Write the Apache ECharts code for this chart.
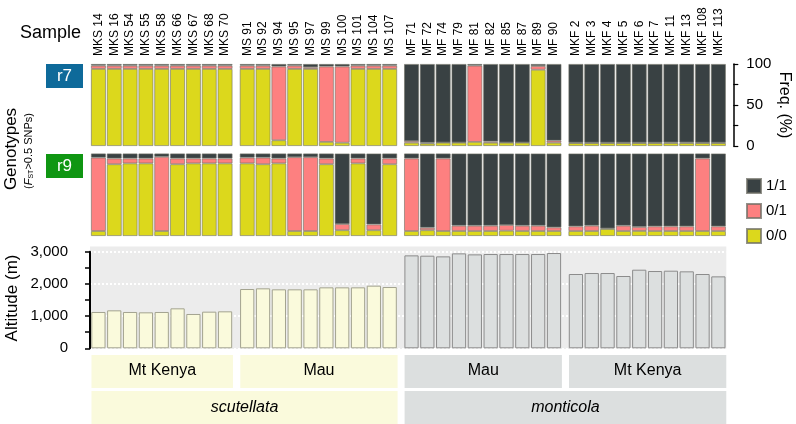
<!DOCTYPE html>
<html>
<head>
<meta charset="utf-8">
<script src="https://cdn.jsdelivr.net/npm/echarts@6/dist/echarts.min.js"></script>
<style>
  html, body { margin: 0; padding: 0; background: #fff; }
  #main { width: 796px; height: 424px; }
</style>
</head>
<body>
<div id="main"></div>
<script>
// sample names, in plot order
var samples = ['MKS 14','MKS 16','MKS 54','MKS 55','MKS 58','MKS 66','MKS 67','MKS 68','MKS 70',
  'MS 91','MS 92','MS 94','MS 95','MS 97','MS 99','MS 100','MS 101','MS 104','MS 107',
  'MF 71','MF 72','MF 74','MF 79','MF 81','MF 82','MF 85','MF 87','MF 89','MF 90',
  'MKF 2','MKF 3','MKF 4','MKF 5','MKF 6','MKF 7','MKF 11','MKF 13','MKF 108','MKF 113'];
var groupSizes = [9, 10, 10, 10];
var regions = ['Mt Kenya', 'Mau', 'Mau', 'Mt Kenya'];
var species = ['scutellata', 'monticola'];
var speciesGroups = [[0, 1], [2, 3]];
var genotypes = ['0/0', '0/1', '1/1'];

// r7 genotype frequencies (%)
var r7_00 = [94,94,94,94,94,94,94,94,94,
  94,94,7,94,94,5,4,94,94,94,
  4,3,4,4,5,4,4,4,93,4,
  3.5,3.5,3.5,3.5,3.5,3.5,3.5,3.5,3.5,3.5];
var r7_01 = [4,4,4,4,4,4,4,4,4,
  4,4,90,4,2,92,93,4,4,4,
  2,1,0.5,0.5,93,1.5,0.5,0.5,4.5,2.5,
  0.7,0.7,0.7,0.7,0.7,0.7,1,1,0.7,0.7];
var r7_11 = [2,2,2,2,2,2,2,2,2,
  2,2,3,2,4,3,3,2,2,2,
  94,96,95.5,95.5,2,94.5,95.5,95.5,2.5,93.5,
  95.8,95.8,95.8,95.8,95.8,95.8,95.5,95.5,95.8,95.8];

// r9 genotype frequencies (%)
var r9_00 = [6,87,88,88,6,87,88,88,88,
  88,87,88,6,6,87,7,88,7,87,
  6,7,6,6,6,6,6.4,6,6,6,
  6,6,8.5,6,6.1,6,6,6,6,6];
var r9_01 = [89,7,6,6,90,7,6,6,6,
  7,8,6,89.5,89.5,7,7.5,6,7,7,
  88,3,88,6.5,6.5,6.5,6.9,6.5,6.5,4.5,
  5.7,6.5,0.8,6.5,4.8,5.7,5.7,5.7,88,5.7];
var r9_11 = [5,6,6,6,4,6,6,6,6,
  5,5,6,4.5,4.5,6,85.5,6,86,6,
  6,90,6,87.5,87.5,87.5,86.7,87.5,87.5,89.5,
  88.3,87.5,90.7,87.5,89.1,88.3,88.3,88.3,6,88.3];

// altitude (m)
var altitude = [1128,1179,1128,1117,1128,1241,1066,1138,1148,
  1841,1862,1831,1831,1831,1893,1893,1893,1945,1903,
  2886,2876,2855,2948,2917,2928,2928,2928,2928,2959,
  2307,2338,2338,2245,2441,2400,2410,2390,2307,2234];

var FONT = 'Liberation Sans, Arial, Helvetica, sans-serif';
var PITCH = 15.83;
var groupLeft = [90.5, 239.3, 403.6, 568];
var genoColor = { '0/0': '#dcd81c', '0/1': '#fd8080', '1/1': '#394143' };
var altFill = ['#fafadc', '#fafadc', '#dcdfdf', '#dcdfdf'];
var altBorder = ['#a3a38f', '#a3a38f', '#8c8c8c', '#8c8c8c'];

var rows = [
  { top: 64, height: 82, data: [r7_00, r7_01, r7_11] },
  { top: 153.5, height: 82.5, data: [r9_00, r9_01, r9_11] }
];
var altTop = 251.7, altHeight = 96.6;

var starts = [];
var acc = 0;
groupSizes.forEach(function (n) { starts.push(acc); acc += n; });
function groupRight(g) { return groupLeft[g] + groupSizes[g] * PITCH; }

var grid = [], xAxis = [], yAxis = [], series = [];

// genotype rows
rows.forEach(function (row, r) {
  groupSizes.forEach(function (n, g) {
    var gi = grid.length;
    grid.push({ left: groupLeft[g], width: n * PITCH, top: row.top, height: row.height });
    var names = samples.slice(starts[g], starts[g] + n);
    xAxis.push({
      gridIndex: gi, type: 'category', data: names, position: 'top',
      axisLine: { show: false }, axisTick: { show: false },
      axisLabel: r === 0 ? { show: true, rotate: 90, interval: 0, margin: 8, fontSize: 12, color: '#000', fontFamily: FONT } : { show: false }
    });
    var ya = { gridIndex: gi, type: 'value', min: 0, max: 100, show: false };
    if (r === 0 && g === 3) {
      ya = {
        gridIndex: gi, type: 'value', min: 0, max: 100, interval: 50, position: 'right', offset: 7,
        axisLine: { show: true, lineStyle: { color: '#000', width: 1.5 } },
        axisTick: { show: true, length: 5, lineStyle: { color: '#000', width: 1.2 } },
        minorTick: { show: true, splitNumber: 2, length: 5, lineStyle: { color: '#000', width: 1.2 } },
        axisLabel: { fontSize: 15, color: '#000', margin: 13, fontFamily: FONT },
        splitLine: { show: false }
      };
    }
    yAxis.push(ya);
    genotypes.forEach(function (gt, k) {
      series.push({
        name: gt, type: 'bar', stack: 'st' + gi, xAxisIndex: gi, yAxisIndex: gi,
        barCategoryGap: '6%',
        data: row.data[k].slice(starts[g], starts[g] + n),
        itemStyle: { color: genoColor[gt], borderColor: 'rgba(110,110,100,0.75)', borderWidth: 0.8 }
      });
    });
  });
});

// altitude background panel
var bgIdx = grid.length;
grid.push({ left: 90, width: groupRight(3) - 90, top: 246.5, height: 102.5, show: true, backgroundColor: '#ececec', borderWidth: 0 });
xAxis.push({ gridIndex: bgIdx, type: 'value', show: false });
yAxis.push({ gridIndex: bgIdx, type: 'value', show: false });

// altitude axis with dotted gridlines
var axIdx = grid.length;
grid.push({ left: 90, width: groupRight(3) - 90, top: altTop, height: altHeight });
xAxis.push({ gridIndex: axIdx, type: 'value', show: false, min: 0, max: 1 });
yAxis.push({
  gridIndex: axIdx, type: 'value', min: 0, max: 3000, interval: 1000, offset: 9,
  axisLine: { show: true, lineStyle: { color: '#000', width: 2 } },
  axisTick: { show: true, length: 5, lineStyle: { color: '#000', width: 1.5 } },
  minorTick: { show: true, splitNumber: 2, length: 5, lineStyle: { color: '#000', width: 1.5 } },
  axisLabel: { fontSize: 15, color: '#000', margin: 13, fontFamily: FONT,
    formatter: function (v) { return v.toLocaleString('en-US'); } },
  splitLine: { show: true, lineStyle: { color: '#fff', type: 'dotted', width: 2 } }
});

// altitude bars
groupSizes.forEach(function (n, g) {
  var gi = grid.length;
  grid.push({ left: groupLeft[g], width: n * PITCH, top: altTop, height: altHeight });
  xAxis.push({ gridIndex: gi, type: 'category', data: samples.slice(starts[g], starts[g] + n), show: false });
  yAxis.push({ gridIndex: gi, type: 'value', min: 0, max: 3000, show: false });
  series.push({
    name: 'Altitude', type: 'bar', xAxisIndex: gi, yAxisIndex: gi, barCategoryGap: '10%', z: 3,
    data: altitude.slice(starts[g], starts[g] + n),
    itemStyle: { color: altFill[g], borderColor: altBorder[g], borderWidth: 1 }
  });
});

// text labels and population boxes
var graphic = [
  { type: 'text', left: 20, top: 24, style: { text: 'Sample', fontSize: 18, fill: '#000', fontFamily: FONT } },
  { type: 'text', x: 11, y: 149, rotation: Math.PI / 2,
    style: { text: 'Genotypes', fontSize: 17, fill: '#000', fontFamily: FONT, textAlign: 'center', textVerticalAlign: 'middle' } },
  { type: 'text', x: 29, y: 151, rotation: Math.PI / 2,
    style: { text: '{a|(}{f|F}{s|ST}{a|>0.5 SNPs)}', fontFamily: FONT, fill: '#000', textAlign: 'center', textVerticalAlign: 'middle',
      rich: { a: { fontSize: 11, fontFamily: FONT }, f: { fontSize: 11, fontStyle: 'italic', fontFamily: FONT },
        s: { fontSize: 7, verticalAlign: 'bottom', fontFamily: FONT, padding: [5, 0, 0, 0] } } } },
  { type: 'rect', shape: { x: 46, y: 64, width: 37, height: 24 }, style: { fill: '#0e6a9a' } },
  { type: 'text', x: 64.5, y: 76, style: { text: 'r7', fontSize: 17, fill: '#fff', fontFamily: FONT, textAlign: 'center', textVerticalAlign: 'middle' } },
  { type: 'rect', shape: { x: 46, y: 154, width: 37, height: 24 }, style: { fill: '#0f9612' } },
  { type: 'text', x: 64.5, y: 166, style: { text: 'r9', fontSize: 17, fill: '#fff', fontFamily: FONT, textAlign: 'center', textVerticalAlign: 'middle' } },
  { type: 'text', x: 12, y: 298, rotation: Math.PI / 2,
    style: { text: 'Altitude (m)', fontSize: 17, fill: '#000', fontFamily: FONT, textAlign: 'center', textVerticalAlign: 'middle' } },
  { type: 'text', x: 784, y: 105, rotation: -Math.PI / 2,
    style: { text: 'Freq. (%)', fontSize: 16, fill: '#000', fontFamily: FONT, textAlign: 'center', textVerticalAlign: 'middle' } }
];
regions.forEach(function (name, g) {
  var x0 = groupLeft[g] + 1, x1 = groupRight(g);
  graphic.push({ type: 'rect', shape: { x: x0, y: 355, width: x1 - x0, height: 33 }, style: { fill: altFill[g] } });
  graphic.push({ type: 'text', x: (x0 + x1) / 2, y: 371, style: { text: name, fontSize: 16, fill: '#000', fontFamily: FONT, textAlign: 'center', textVerticalAlign: 'middle' } });
});
species.forEach(function (name, s) {
  var gs = speciesGroups[s];
  var x0 = groupLeft[gs[0]] + 1, x1 = groupRight(gs[gs.length - 1]);
  graphic.push({ type: 'rect', shape: { x: x0, y: 391, width: x1 - x0, height: 33 }, style: { fill: altFill[gs[0]] } });
  graphic.push({ type: 'text', x: (x0 + x1) / 2, y: 408, style: { text: name, fontSize: 16, fontStyle: 'italic', fill: '#000', fontFamily: FONT, textAlign: 'center', textVerticalAlign: 'middle' } });
});

var chart = echarts.init(document.getElementById('main'));
chart.setOption({
  animation: false,
  textStyle: { fontFamily: FONT },
  legend: {
    data: ['1/1', '0/1', '0/0'], orient: 'vertical', left: 741, top: 173,
    itemWidth: 14, itemHeight: 14, itemGap: 9, icon: 'rect',
    textStyle: { fontSize: 15, color: '#000', fontFamily: FONT }
  },
  grid: grid,
  xAxis: xAxis,
  yAxis: yAxis,
  series: series,
  graphic: graphic
});
</script>
</body>
</html>
